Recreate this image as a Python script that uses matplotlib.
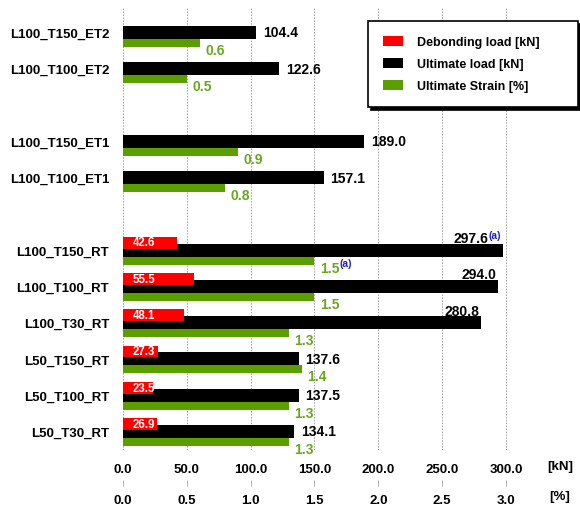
import matplotlib
matplotlib.use("Agg")
import matplotlib.pyplot as plt
from matplotlib.patches import Patch
import numpy as np

plt.rcParams['font.family'] = ['Liberation Sans', 'DejaVu Sans']
plt.rcParams['font.weight'] = 'bold'

# Specimens, bottom to top, with a blank slot between test-condition groups
groups = [
    ["L50_T30_RT", "L50_T100_RT", "L50_T150_RT", "L100_T30_RT", "L100_T100_RT", "L100_T150_RT"],
    ["L100_T100_ET1", "L100_T150_ET1"],
    ["L100_T100_ET2", "L100_T150_ET2"],
]
debonding = [26.9, 23.5, 27.3, 48.1, 55.5, 42.6, None, None, None, None]
ultimate = [134.1, 137.5, 137.6, 280.8, 294.0, 297.6, 157.1, 189.0, 122.6, 104.4]
strain = [1.3, 1.3, 1.4, 1.3, 1.5, 1.5, 0.8, 0.9, 0.5, 0.6]
note_a = ["L100_T150_RT"]

kn_ticks = [0, 50, 100, 150, 200, 250, 300]
pct_ticks = [0.0, 0.5, 1.0, 1.5, 2.0, 2.5, 3.0]

RED = "#ff0000"
BLACK = "#000000"
GREEN = "#5a9e00"
GREEN_TXT = "#6aa620"
BLUE = "#2020c0"

# slot positions
names, pos = [], []
slot = 0
for g in groups:
    for n in g:
        names.append(n)
        pos.append(slot)
        slot += 1
    slot += 1
pos = np.array(pos, dtype=float)

fig = plt.figure(figsize=(5.8, 5.06), dpi=100)
W, H = 580, 506
ax = fig.add_axes([123 / W, 1 - 450.6 / H, (557 - 123) / W, (450.6 - 8.1) / H])
ax.set_xlim(0, 340)
ax.set_ylim(-0.5, 11.7)

hb, hg, hr = 0.36, 0.22, 0.33
ax.barh(pos, ultimate, height=hb, color=BLACK, zorder=2)
ax.barh(pos - hb / 2 - hg / 2, [s * 100 for s in strain], height=hg, color=GREEN, zorder=2)
dpos = [p for p, d in zip(pos, debonding) if d is not None]
dval = [d for d in debonding if d is not None]
ax.barh(np.array(dpos) + 0.205, dval, height=hr, color=RED, zorder=3)

for p, d in zip(dpos, dval):
    ax.annotate(f"{d:.1f}", xy=(0, p + 0.21), xytext=(7, 0), textcoords="offset points",
                ha="left", va="center", color="white", fontsize=8.3, zorder=4)

for n, p, u, s in zip(names, pos, ultimate, strain):
    if u > 250:
        shift = -10.5 if n in note_a else -1.5
        t = ax.annotate(f"{u:.1f}", xy=(u, p + 0.33), xytext=(shift, 0), textcoords="offset points",
                        ha="right", va="center", color=BLACK, fontsize=10, zorder=5)
    else:
        t = ax.annotate(f"{u:.1f}", xy=(u, p), xytext=(5, 0), textcoords="offset points",
                        ha="left", va="center", color=BLACK, fontsize=10, zorder=5)
    if n in note_a:
        ax.annotate("(a)", xy=(1, 1), xycoords=t, xytext=(0.3, 1), textcoords="offset points",
                    ha="left", va="top", color=BLUE, fontsize=7.5)
    g = ax.annotate(f"{s:.1f}", xy=(s * 100, p - hb / 2 - hg / 2 - 0.19), xytext=(4, 0),
                    textcoords="offset points", ha="left", va="center",
                    color=GREEN_TXT, fontsize=10, zorder=5)
    if n in note_a:
        ax.annotate("(a)", xy=(1, 1), xycoords=g, xytext=(0.3, 2), textcoords="offset points",
                    ha="left", va="top", color=BLUE, fontsize=7.5)

ax.set_yticks(pos)
ax.set_yticklabels(names, fontsize=9.5)
ax.tick_params(axis="y", length=0, pad=10)
ax.set_xticks(kn_ticks)
ax.set_xticklabels([f"{v:.1f}" for v in kn_ticks], fontsize=9.5)
ax.tick_params(axis="x", length=0, pad=10)
ax.grid(axis="x", color="#a0a0a0", linestyle=(0, (1.5, 1.5)), linewidth=0.7, zorder=0)
ax.set_axisbelow(True)
for sp in ax.spines.values():
    sp.set_visible(False)

sec = ax.secondary_xaxis(-0.068, functions=(lambda x: x / 100, lambda x: x * 100))
sec.set_xticks(pct_ticks)
sec.set_xticklabels([f"{v:.1f}" for v in pct_ticks], fontsize=9.5)
sec.tick_params(axis="x", length=4, width=0.7, color="#b0b0b0", pad=6)
sec.spines["bottom"].set_visible(False)

fig.text(560 / W, 1 - 467 / H, "[kN]", ha="center", va="center", fontsize=9.5)
fig.text(560 / W, 1 - 497 / H, "[%]", ha="center", va="center", fontsize=9.5)

handles = [Patch(facecolor=RED, label="Debonding load [kN]"),
           Patch(facecolor=BLACK, label="Ultimate load [kN]"),
           Patch(facecolor=GREEN, label="Ultimate Strain [%]")]
leg = fig.legend(handles=handles, loc="upper left", mode="expand",
                 bbox_to_anchor=(368 / W, 1 - 107 / H, 210 / W, 85 / H),
                 fontsize=9, frameon=True, fancybox=False, framealpha=1,
                 edgecolor="black", shadow={"color": "black", "alpha": 1},
                 handlelength=1.6, handleheight=0.8, handletextpad=1.1,
                 labelspacing=0.8, borderpad=1.2, borderaxespad=0)
leg.get_frame().set_linewidth(1.2)

fig.savefig("out.png", dpi=100)
